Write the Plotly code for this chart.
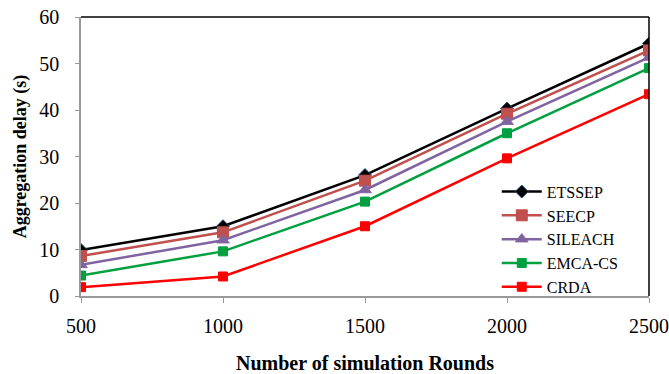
import plotly.graph_objects as go

rounds = [500, 1000, 1500, 2000, 2500]
etssep = [9.9, 15.0, 26.0, 40.3, 54.3]
seecp = [8.6, 13.7, 24.8, 39.2, 52.8]
sileach = [6.7, 12.0, 22.8, 37.5, 51.3]
emca_cs = [4.4, 9.6, 20.3, 35.0, 49.0]
crda = [1.9, 4.2, 15.0, 29.6, 43.4]

series = [
    ("ETSSEP", etssep, "#000000", "diamond", 10),
    ("SEECP", seecp, "#C0504D", "square", 11),
    ("SILEACH", sileach, "#8064A2", "triangle-up", 11),
    ("EMCA-CS", emca_cs, "#00A040", "square", 9),
    ("CRDA", crda, "#FF0000", "square", 9),
]

fig = go.Figure()
for name, vals, color, sym, size in series:
    fig.add_trace(go.Scatter(
        x=rounds, y=vals, name=name, mode="lines+markers",
        line=dict(color=color, width=2.5),
        marker=dict(symbol=sym, size=size, color=color,
                    line=dict(color=("#1F4E79" if name == "ETSSEP" else color), width=1)),
    ))

ff = "Liberation Serif"
fig.update_layout(
    width=669, height=374,
    margin=dict(l=81, r=20, t=17, b=78),
    paper_bgcolor="white", plot_bgcolor="white",
    font=dict(family=ff, size=20, color="black"),
    showlegend=True,
    legend=dict(x=0.732, y=0.435, xanchor="left", yanchor="top",
                font=dict(family=ff, size=16, color="black"),
                bgcolor="rgba(255,255,255,0)", tracegroupgap=0, itemwidth=40),
    xaxis=dict(range=[500, 2500], tickvals=rounds, showgrid=False, zeroline=False,
               showline=True, linecolor="#999999", linewidth=1.5,
               ticks="outside", tickcolor="#999999", ticklen=5,
               ticklabelstandoff=6, automargin=False,
               tickfont=dict(family=ff, size=20),
               title=dict(text="<b>Number of simulation Rounds</b>", standoff=20,
                          font=dict(family=ff, size=20))),
    yaxis=dict(range=[0, 60], dtick=10, showgrid=False, zeroline=False,
               showline=True, linecolor="#999999", linewidth=1.5,
               ticks="outside", tickcolor="#999999", ticklen=4,
               ticklabelstandoff=12, automargin=False,
               tickfont=dict(family=ff, size=20),
               title=dict(text="<b>Aggregation delay (s)</b>", standoff=8,
                          font=dict(family=ff, size=18))),
    shapes=[
        dict(type="line", xref="paper", yref="paper", x0=0, x1=1, y0=1, y1=1,
             line=dict(color="black", width=1.5)),
        dict(type="line", xref="paper", yref="paper", x0=1, x1=1, y0=0, y1=1,
             line=dict(color="black", width=1.5)),
    ],
)

fig.write_html("out.html")
